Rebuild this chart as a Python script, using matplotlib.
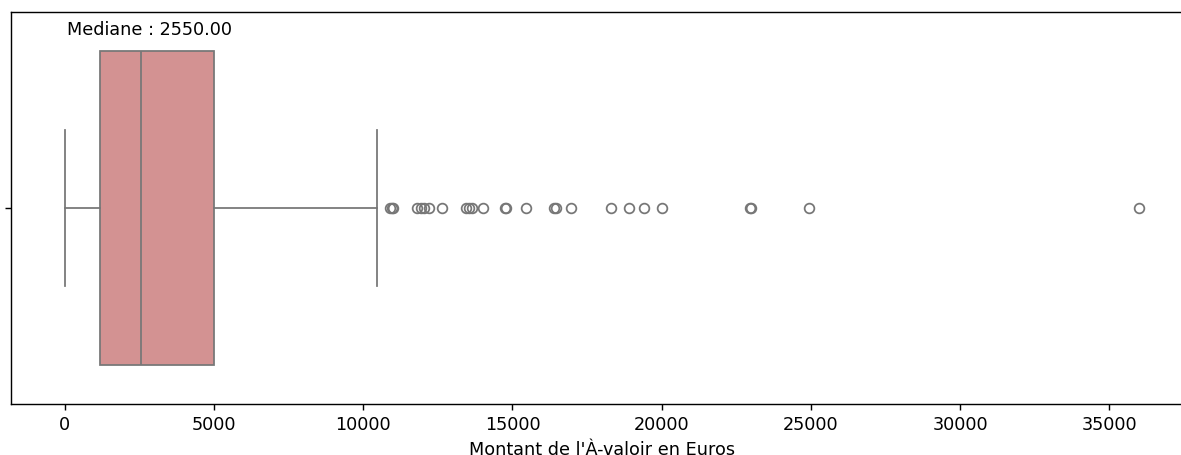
import matplotlib
matplotlib.use("Agg")
import matplotlib.pyplot as plt

# statistiques de la boite
q1 = 1180
mediane = 2550
q3 = 5000
whisker_bas = 0
whisker_haut = 10450
outliers = [10900, 10950, 11000, 11800, 11950, 12050, 12200, 12650,
            13450, 13550, 13650, 14000, 14750, 14800, 15450, 16400, 16450,
            16950, 18300, 18900, 19400, 20000, 22950, 23000, 24950, 36000]
xticks = [0, 5000, 10000, 15000, 20000, 25000, 30000, 35000]

box_color = "#d39292"
line_color = "#777777"

DPI = 127
fig = plt.figure(figsize=(1181 / DPI, 455 / DPI), dpi=DPI)
ax = fig.add_axes([11 / 1181, 51 / 455, (1193 - 11) / 1181, (404 - 12) / 455])

stats = [{
    "med": mediane, "q1": q1, "q3": q3,
    "whislo": whisker_bas, "whishi": whisker_haut,
    "fliers": outliers,
}]
ax.bxp(stats, positions=[0], vert=False, widths=0.8, patch_artist=True,
       capwidths=0.4,
       boxprops=dict(facecolor=box_color, edgecolor=line_color, linewidth=1.0),
       medianprops=dict(color=line_color, linewidth=1.0),
       whiskerprops=dict(color=line_color, linewidth=1.0),
       capprops=dict(color=line_color, linewidth=1.0),
       flierprops=dict(marker="o", markerfacecolor="none",
                       markeredgecolor=line_color, markersize=5.5,
                       markeredgewidth=1.0))

ax.set_xlim(-1800, 37800)
ax.set_ylim(0.5, -0.5)
ax.set_xticks(xticks)
ax.set_xticklabels([str(v) for v in xticks])
ax.set_yticks([0])
ax.set_yticklabels([""])
ax.set_xlabel("Montant de l'À-valoir en Euros")

ax.text(2850, -0.455, f"Mediane : {mediane:.2f}", ha="center", va="center",
        fontsize=10, color="black")

fig.savefig("out.png", dpi=DPI)
